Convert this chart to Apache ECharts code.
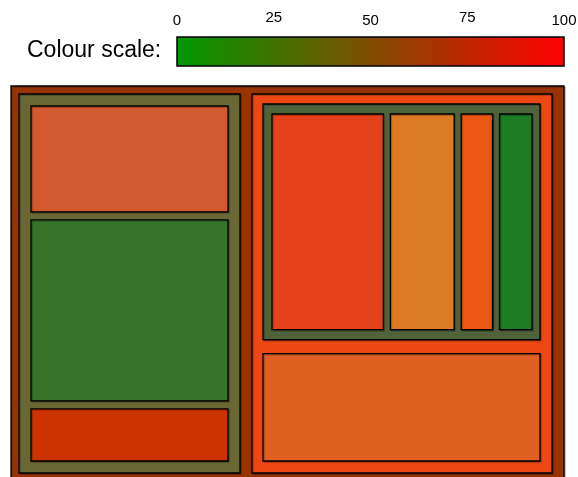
<!DOCTYPE html>
<html>
<head>
<meta charset="utf-8">
<script src="https://cdn.jsdelivr.net/npm/echarts@6/dist/echarts.min.js"></script>
<style>
  html, body { margin: 0; padding: 0; background: #fff; }
  #chart { width: 578px; height: 477px; }
</style>
</head>
<body>
<div id="chart"></div>
<script>
// ---- data ----
const scaleTicks = [0, 25, 50, 75, 100];
const leftLeafValues = [69, 118, 34];          // left group, top to bottom
const topRightLeafValues = [96, 55, 27, 28];   // right group, upper sub-group, left to right
const bottomRightValue = 94;                   // right group, lower leaf

// ---- styles ----
const rootColor = '#983404';
const leftGroupColor = '#696834';
const rightGroupColor = '#ed4814';
const subGroupColor = '#4f633a';
const leftLeafColors = ['#d35931', '#37732b', '#cc3300'];
const topRightLeafColors = ['#e5411a', '#dd7a24', '#ed5714', '#1d7d25'];
const bottomRightColor = '#df6020';
const scaleLow = '#009900', scaleHigh = '#ff0000';

// ---- tree built from the arrays ----
const tree = {
  color: rootColor, pad: [8, 12, 8, 8], gap: 12,
  children: [
    { color: leftGroupColor, pad: [12, 12, 12, 12], gap: 8,
      children: leftLeafValues.map((v, i) => ({ value: v, color: leftLeafColors[i] })) },
    { color: rightGroupColor, pad: [10, 12, 12, 11], gap: 14,
      children: [
        { color: subGroupColor, pad: [10, 8, 10, 9], gap: 7,
          children: topRightLeafValues.map((v, i) => ({ value: v, color: topRightLeafColors[i] })) },
        { value: bottomRightValue, color: bottomRightColor }
      ] }
  ]
};
function total(n) {
  n.total = n.children ? n.children.reduce((s, c) => s + total(c), 0) : n.value;
  return n.total;
}
const grandTotal = total(tree);

// slice-and-dice layout in pixels
function layout(node, x, y, w, h, depth, out) {
  out.push({ x, y, w, h, color: node.color });
  if (!node.children) return;
  const [pt, pr, pb, pl] = node.pad;
  const ix = x + pl, iy = y + pt, iw = w - pl - pr, ih = h - pt - pb;
  const n = node.children.length;
  const horiz = depth % 2 === 0;
  const avail = (horiz ? iw : ih) - node.gap * (n - 1);
  let pos = horiz ? ix : iy;
  node.children.forEach(c => {
    const len = avail * c.total / node.total;
    if (horiz) layout(c, pos, iy, len, ih, depth + 1, out);
    else layout(c, ix, pos, iw, len, depth + 1, out);
    pos += len + node.gap;
  });
}
const nodeCount = (function count(n) { return 1 + (n.children ? n.children.reduce((s, c) => s + count(c), 0) : 0); })(tree);

const chart = echarts.init(document.getElementById('chart'), null, { renderer: 'canvas' });
const fontFamily = '"Liberation Sans", Arial, sans-serif';

chart.setOption({
  animation: false,
  backgroundColor: '#fff',
  title: {
    text: 'Colour scale:', left: 27, top: 39, padding: 0,
    textStyle: { fontSize: 23, fontWeight: 'normal', color: '#000', fontFamily }
  },
  grid: [
    { left: 11, top: 86, width: 553, height: 395, outerBoundsMode: 'none', containLabel: false },
    { left: 177, top: 37, width: 387, height: 29, outerBoundsMode: 'none', containLabel: false }
  ],
  xAxis: [
    { gridIndex: 0, type: 'value', min: 0, max: grandTotal, show: false },
    { gridIndex: 1, type: 'value', min: scaleTicks[0], max: scaleTicks[scaleTicks.length - 1],
      interval: scaleTicks[1] - scaleTicks[0], position: 'top',
      axisLine: { show: false }, axisTick: { show: false }, splitLine: { show: false },
      axisLabel: {
        margin: 9, color: '#000', fontSize: 15, fontFamily,
        formatter: (v, i) => (i % 2 ? '{up|' + v + '}' : '{n|' + v + '}'),
        rich: { up: { fontSize: 15, fontFamily, padding: [0, 0, 3, 0] }, n: { fontSize: 15, fontFamily } }
      } }
  ],
  yAxis: [
    { gridIndex: 0, type: 'value', min: 0, max: 1, show: false },
    { gridIndex: 1, type: 'value', min: 0, max: 1, show: false }
  ],
  series: [
    {
      type: 'custom', xAxisIndex: 1, yAxisIndex: 1, silent: true,
      data: [[scaleTicks[0], 0]],
      renderItem: (params, api) => {
        const p0 = api.coord([scaleTicks[0], 1]);
        const p1 = api.coord([scaleTicks[scaleTicks.length - 1], 0]);
        return {
          type: 'rect',
          shape: { x: p0[0], y: p0[1], width: p1[0] - p0[0], height: p1[1] - p0[1] },
          style: {
            fill: new echarts.graphic.LinearGradient(0, 0, 1, 0, [
              { offset: 0, color: scaleLow }, { offset: 1, color: scaleHigh }
            ]),
            stroke: '#000', lineWidth: 1.5
          }
        };
      }
    },
    {
      type: 'custom', xAxisIndex: 0, yAxisIndex: 0, silent: true, clip: false,
      data: Array.from({ length: nodeCount }, (_, i) => [i, 0]),
      renderItem: (params, api) => {
        const p0 = api.coord([0, 1]);
        const p1 = api.coord([grandTotal, 0]);
        const rects = [];
        layout(tree, p0[0], p0[1], p1[0] - p0[0], p1[1] - p0[1], 0, rects);
        const r = rects[api.value(0)];
        return {
          type: 'rect',
          shape: { x: r.x, y: r.y, width: r.w, height: r.h },
          style: {
            fill: r.color, stroke: '#000', lineWidth: 1.3,
            shadowColor: 'rgba(0,0,0,0.3)', shadowBlur: 1, shadowOffsetX: 1, shadowOffsetY: 1
          }
        };
      }
    }
  ]
});
</script>
</body>
</html>
